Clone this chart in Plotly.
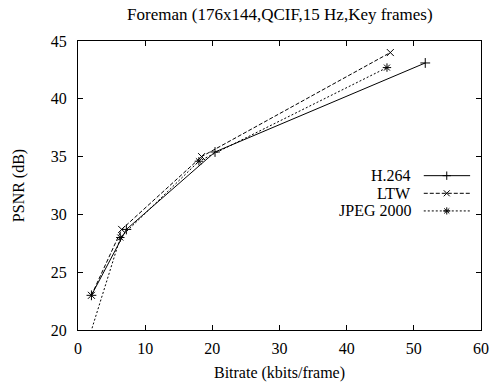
import plotly.graph_objects as go

# Data (Bitrate kbits/frame, PSNR dB)
h264_x = [2.0, 7.2, 20.4, 51.7]
h264_y = [23.0, 28.7, 35.4, 43.1]
ltw_x = [2.0, 6.5, 18.4, 46.5]
ltw_y = [23.0, 28.7, 35.0, 44.0]
jpeg_x = [1.2, 6.3, 18.0, 46.0]
jpeg_y = [18.5, 28.0, 34.6, 42.7]
series_names = ["H.264", "LTW", "JPEG 2000"]

x_ticks = [0, 10, 20, 30, 40, 50, 60]
y_ticks = [20, 25, 30, 35, 40, 45]

FONT = "Liberation Serif"
series = [
    (series_names[0], h264_x, h264_y, "solid", "cross-thin-open"),
    (series_names[1], ltw_x, ltw_y, "4px,2px", "x-thin-open"),
    (series_names[2], jpeg_x, jpeg_y, "2px,2px", "asterisk-open"),
]

fig = go.Figure()
for name, xs, ys, dash, sym in series:
    fig.add_trace(go.Scatter(
        x=xs, y=ys, mode="lines+markers", name=name, showlegend=False,
        line=dict(color="black", width=1, dash=dash),
        marker=dict(symbol=sym, size=7, color="black", line=dict(color="black", width=1)),
        cliponaxis=True,
    ))

# Gnuplot-style legend on overlay axes
leg_y = [0.534, 0.473, 0.412]
for (name, xs, ys, dash, sym), ly in zip(series, leg_y):
    fig.add_trace(go.Scatter(
        x=[0.858, 0.973], y=[ly, ly], xaxis="x2", yaxis="y2", mode="lines",
        line=dict(color="black", width=1, dash=dash), showlegend=False, hoverinfo="skip"))
    fig.add_trace(go.Scatter(
        x=[0.915], y=[ly], xaxis="x2", yaxis="y2", mode="markers",
        marker=dict(symbol=sym, size=6, color="black", line=dict(color="black", width=1)),
        showlegend=False, hoverinfo="skip"))
    fig.add_annotation(x=0.832, y=ly, xref="x2", yref="y2", text=name, showarrow=False,
                       xanchor="right", yanchor="middle", font=dict(family=FONT, size=16, color="black"))

axis_common = dict(showgrid=False, zeroline=False, showline=True, linecolor="black", linewidth=1,
                   mirror="ticks", ticks="inside", ticklen=5, tickcolor="black", automargin=False,
                   tickfont=dict(family=FONT, size=16, color="black"))
fig.update_layout(
    width=491, height=383,
    margin=dict(l=78, r=10, t=41, b=53),
    paper_bgcolor="white", plot_bgcolor="white",
    title=dict(text="Foreman (176x144,QCIF,15 Hz,Key frames)", x=0.57, xanchor="center",
               y=0.963, yanchor="middle", font=dict(family=FONT, size=17, color="black")),
    xaxis=dict(range=[0, 60], tickvals=x_ticks, ticklabelstandoff=4,
               title=dict(text="Bitrate (kbits/frame)", font=dict(family=FONT, size=16, color="black"), standoff=10),
               **axis_common),
    yaxis=dict(range=[20, 45], tickvals=y_ticks, ticklabelstandoff=7,
               title=dict(text="PSNR (dB)", font=dict(family=FONT, size=16, color="black"), standoff=22),
               **axis_common),
    xaxis2=dict(range=[0, 1], overlaying="x", visible=False, domain=[0, 1]),
    yaxis2=dict(range=[0, 1], overlaying="y", visible=False),
    showlegend=False,
)

fig.write_html("out.html")
